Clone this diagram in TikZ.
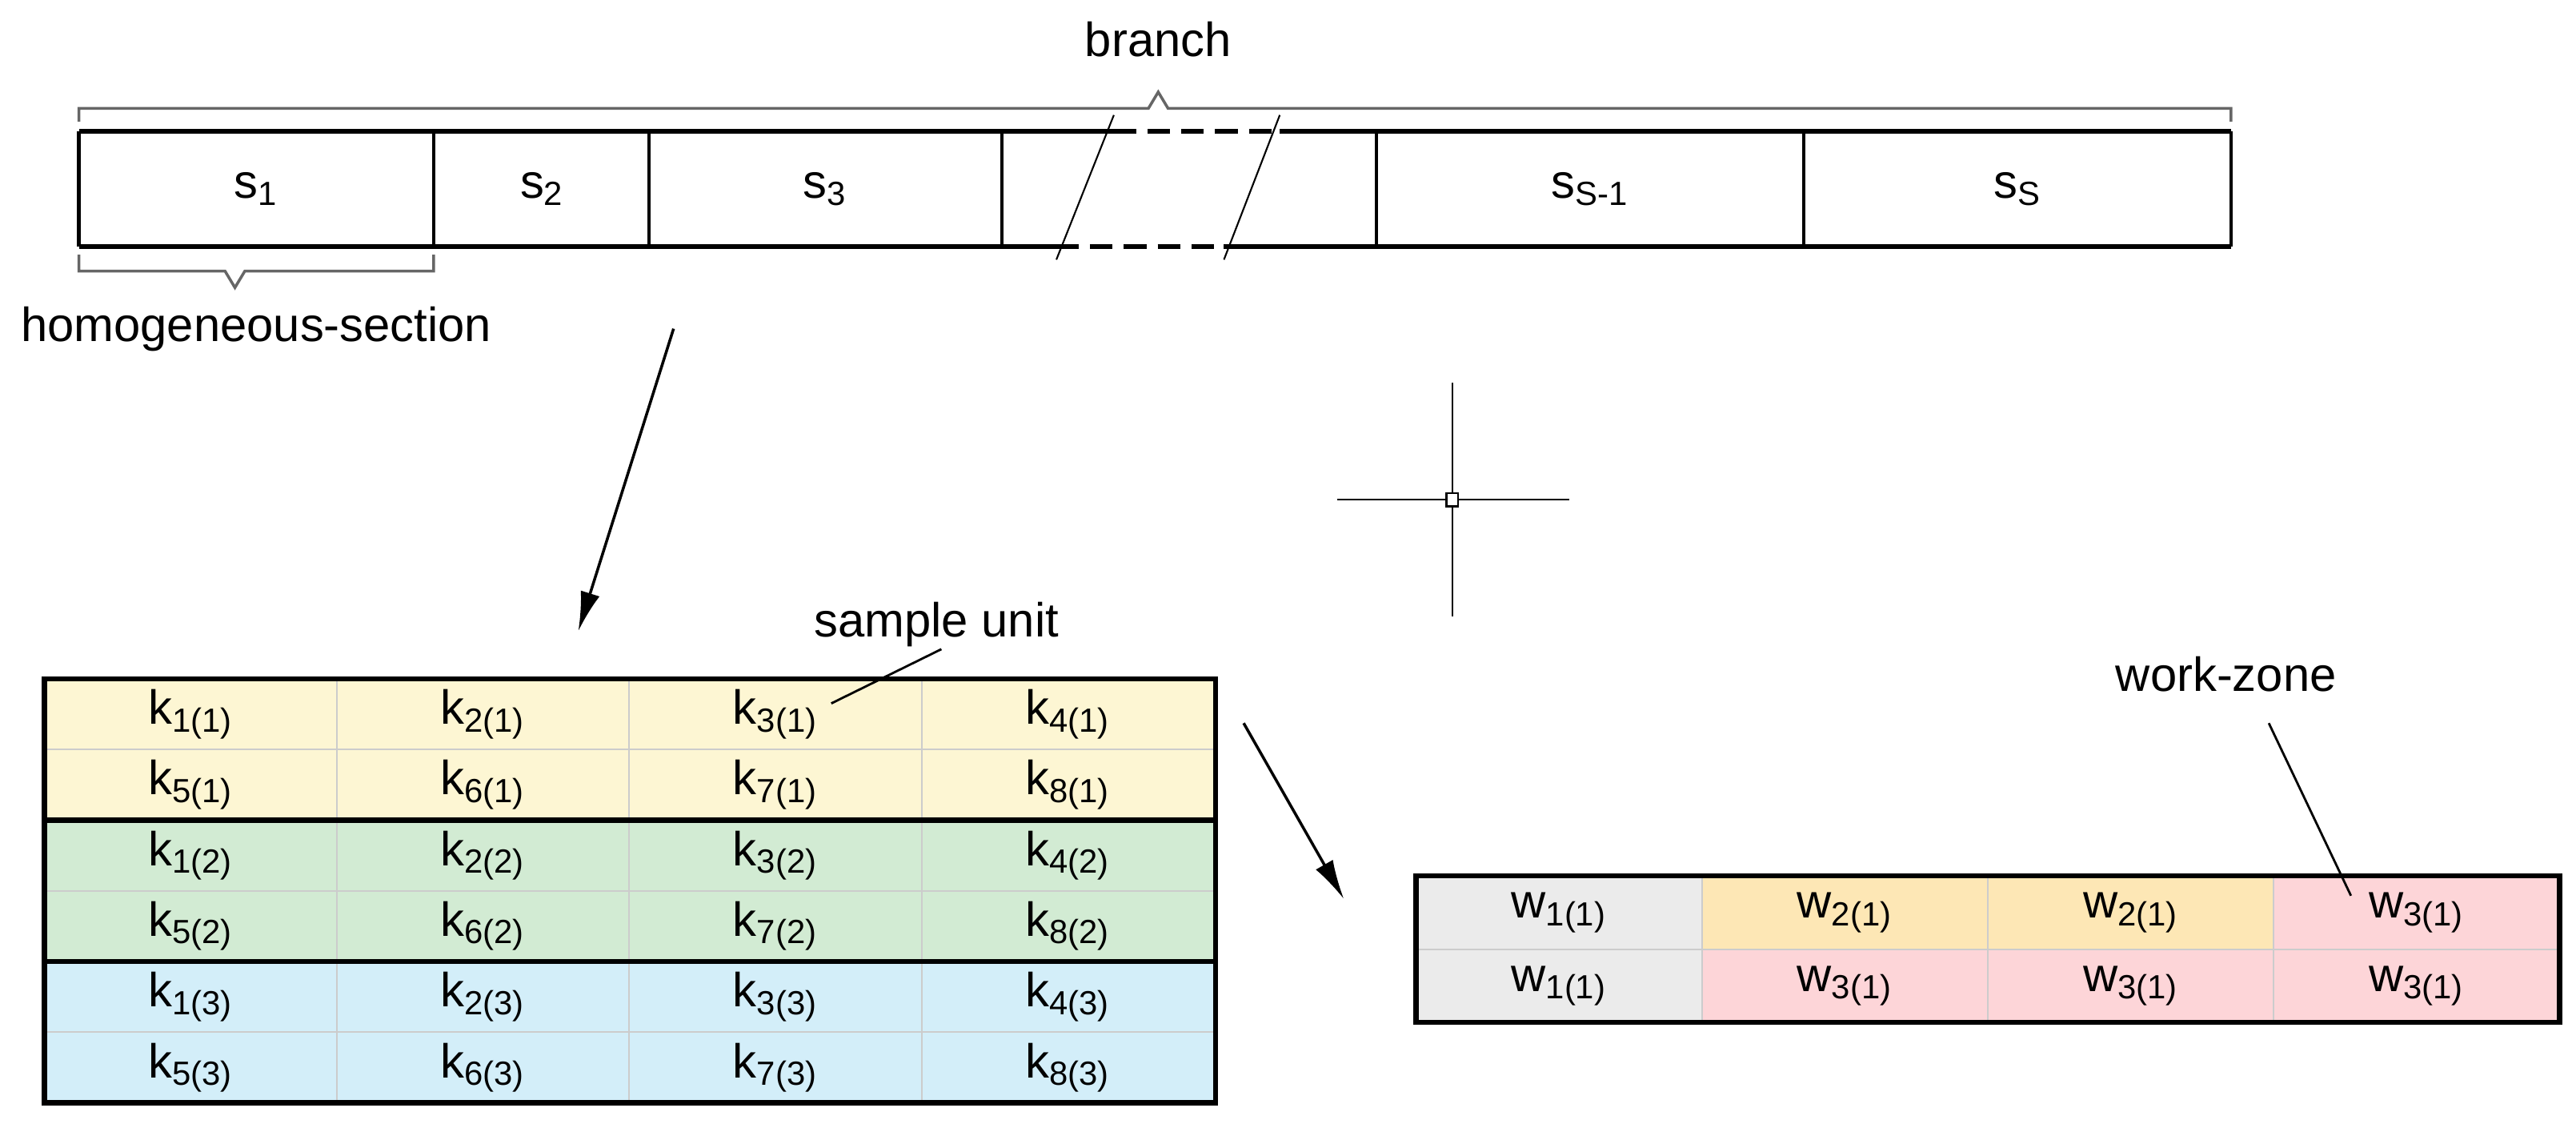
\documentclass[tikz,border=0pt]{standalone}
\usepackage{fontspec}
\setmainfont{Liberation Sans}
\usetikzlibrary{arrows.meta}
\definecolor{ky}{HTML}{FDF6D3}
\definecolor{kg}{HTML}{D2EBD3}
\definecolor{kb}{HTML}{D3EEF9}
\definecolor{wg}{HTML}{EBEBEB}
\definecolor{wo}{HTML}{FDE7B5}
\definecolor{wp}{HTML}{FDD5D8}
\begin{document}
\begin{tikzpicture}[x=0.02053cm,y=-0.02053cm,
  lab/.style={font=\fontsize{17}{20}\selectfont},
  seg/.style={draw=none,font=\fontsize{17}{20}\selectfont},
  cell/.style={draw=black!20,line width=0.6pt,minimum width=178*0.02053cm,minimum height=43*0.02053cm,inner sep=0pt,font=\fontsize{17}{20}\selectfont},
  wcell/.style={draw=black!20,line width=0.6pt,minimum width=174*0.02053cm,minimum height=44.5*0.02053cm,inner sep=0pt,font=\fontsize{17}{20}\selectfont},
  heavy/.style={line width=1.8pt},
  brace/.style={draw=black!60,line width=1pt},
  arr/.style={-{Latex[length=14pt,width=7pt]},line width=1pt}]
\useasboundingbox (0,0) rectangle (1568,686);

% branch bar
\draw[heavy] (48,80) -- (610,80) (48,150) -- (610,150);
\draw[heavy] (838,80) -- (1358,80) (838,150) -- (1358,150);
\draw[heavy] (610,80) -- (678,80) (779,80) -- (838,80);
\draw[heavy] (610,150) -- (643,150) (745,150) -- (838,150);
\draw[heavy,dash pattern=on 8pt off 4pt] (678,80) -- (779,80);
\draw[heavy,dash pattern=on 8pt off 4pt] (643,150) -- (745,150);
\draw[line width=1.2pt] (48,80) -- (48,150) (1358,80) -- (1358,150);
\foreach \x in {264,395,610,838,1098} \draw[line width=1.2pt] (\x,80) -- (\x,150);
\draw[line width=0.6pt] (678,70) -- (643,158);
\draw[line width=0.6pt] (779,70) -- (745,158);
\node[seg] (s1) at (156,115) {s\textsubscript{1}};
\node[seg] (s2) at (330,115) {s\textsubscript{2}};
\node[seg] (s3) at (502,115) {s\textsubscript{3}};
\node[seg] (sS1) at (968,115) {s\textsubscript{S-1}};
\node[seg] (sS) at (1228,115) {s\textsubscript{S}};

% braces
\draw[brace] (48,74) -- (48,66) -- (699,66) -- (705,56) -- (711,66) -- (1358,66) -- (1358,74);
\node[lab] (branch) at (705,24) {branch};
\draw[brace] (48,155) -- (48,165) -- (137,165) -- (143,175) -- (149,165) -- (264,165) -- (264,155);
\node[lab] (hs) at (156,200) {homogeneous-section};

% arrow to sample units
\coordinate (a1s) at (410,200);
\coordinate (a1e) at (352,384);
\draw[arr] (a1s) -- (a1e);

% crosshair
\coordinate (ch) at (884,304);
\draw[line width=0.7pt] (814,304) -- (955,304) (884,233) -- (884,375);
\draw[line width=0.7pt,fill=white] (880.5,300) rectangle (887.5,308);

% sample unit table
\foreach \r in {1,...,6}{
  \pgfmathtruncatemacro{\g}{(\r+1)/2}
  \pgfmathtruncatemacro{\off}{mod(\r+1,2)*4}
  \ifcase\g\or\def\fc{ky}\or\def\fc{kg}\or\def\fc{kb}\fi
  \foreach \c in {1,...,4}{
    \pgfmathtruncatemacro{\i}{\c+\off}
    \node[cell,fill=\fc] (k\r\c) at ({27+178*(\c-0.5)},{413+43*(\r-0.5)}) {k\textsubscript{\i(\g)}};
  }
}
\draw[heavy] (27,413) rectangle (740,671);
\draw[heavy] (27,499) -- (740,499) (27,585) -- (740,585);
\node[lab] (su) at (570,380) {sample unit};
\draw[line width=0.8pt] (573,395) -- (506,428);

% arrow to work zones
\draw[arr] (757,440) -- (818,547);

% work zone table
\def\wl{{"1","2","2","3","1","3","3","3"}}
\foreach \r in {1,2}{
  \foreach \c in {1,...,4}{
    \pgfmathtruncatemacro{\n}{(\r-1)*4+\c-1}
    \pgfmathsetmacro{\w}{\wl[\n]}
    \ifcase\w\or\def\fc{wg}\or\def\fc{wo}\or\def\fc{wp}\fi
    \node[wcell,fill=\fc] (w\r\c) at ({862+174*(\c-0.5)},{533+44.5*(\r-0.5)}) {w\textsubscript{\w(1)}};
  }
}
\draw[heavy] (862,533) rectangle (1558,622);
\node[lab] (wz) at (1355,410) {work-zone};
\draw[line width=0.8pt] (1381,440) -- (1431,545);
\end{tikzpicture}
\end{document}
